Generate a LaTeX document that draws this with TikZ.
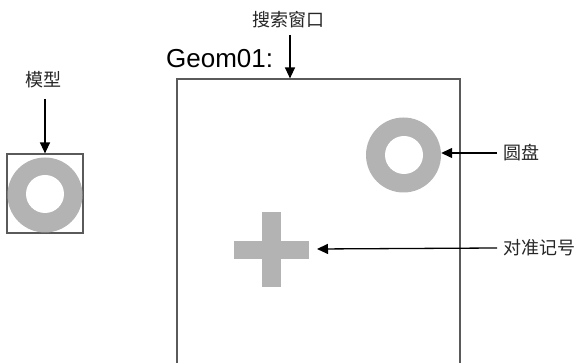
\documentclass[tikz,border=0pt]{standalone}
\usepackage{fontspec}
\setmainfont{Liberation Sans}
\newfontfamily\cjk{Noto Sans CJK SC}
\usetikzlibrary{arrows.meta}
\definecolor{ringgray}{HTML}{B3B3B3}
\definecolor{boxline}{HTML}{5A5A5A}
\tikzset{
  lbl/.style={font=\cjk\fontsize{18}{20}\selectfont, inner sep=0pt, text=black!85},
  ptr/.style={line width=1.3pt, -{Triangle[length=11pt,width=10pt]}},
  frame/.style={draw=boxline, line width=1.2pt, fill=white, inner sep=0pt},
  ringout/.style={circle, fill=ringgray, minimum size=75pt, inner sep=0pt},
  ringin/.style={circle, fill=white, minimum size=38pt, inner sep=0pt},
  barshape/.style={fill=ringgray, inner sep=0pt}
}
\begin{document}
\begin{tikzpicture}[x=1pt,y=-1pt]
\useasboundingbox[fill=white] (0,0) rectangle (576,363);
% model
\node[frame, minimum width=76pt, minimum height=79pt] (model) at (45,193.5) {};
\node[ringout] (mring) at (45,195) {};
\node[ringin] (mhole) at (45,194) {};
\node[lbl] (mlabel) at (43.5,80) {模型};
\coordinate (mstart) at (45,99);
\draw[ptr] (mstart) -- (model.north);
% search window (bottom edge lies just outside the picture)
\node[frame, minimum width=283pt, minimum height=285pt] (window) at (318.5,221.5) {};
\node[lbl] (wlabel) at (288,19.5) {搜索窗口};
\coordinate (wstart) at (290,35);
\draw[ptr] (wstart) -- (window.north -| wstart);
\node[anchor=base west, inner sep=0pt, font=\fontsize{26}{29}\selectfont] (geom) at (166,68) {Geom01:};
% disk
\node[ringout] (disk) at (403.5,155) {};
\node[ringin] (dhole) at (404,155) {};
\node[lbl, anchor=west] (dlabel) at (503,153) {圆盘};
\coordinate (dstart) at (497,153);
\draw[ptr] (dstart) -- (disk.east |- dstart);
% alignment mark
\node[barshape, minimum width=75pt, minimum height=18.5pt] (hbar) at (271.5,250) {};
\node[barshape, minimum width=19pt, minimum height=75pt] (vbar) at (271.5,249.5) {};
\node[lbl, anchor=west] (alabel) at (503,248) {对准记号};
\coordinate (astart) at (497,248);
\coordinate (aend) at (317,249);
\draw[ptr] (astart) -- (aend);
\end{tikzpicture}
\end{document}
